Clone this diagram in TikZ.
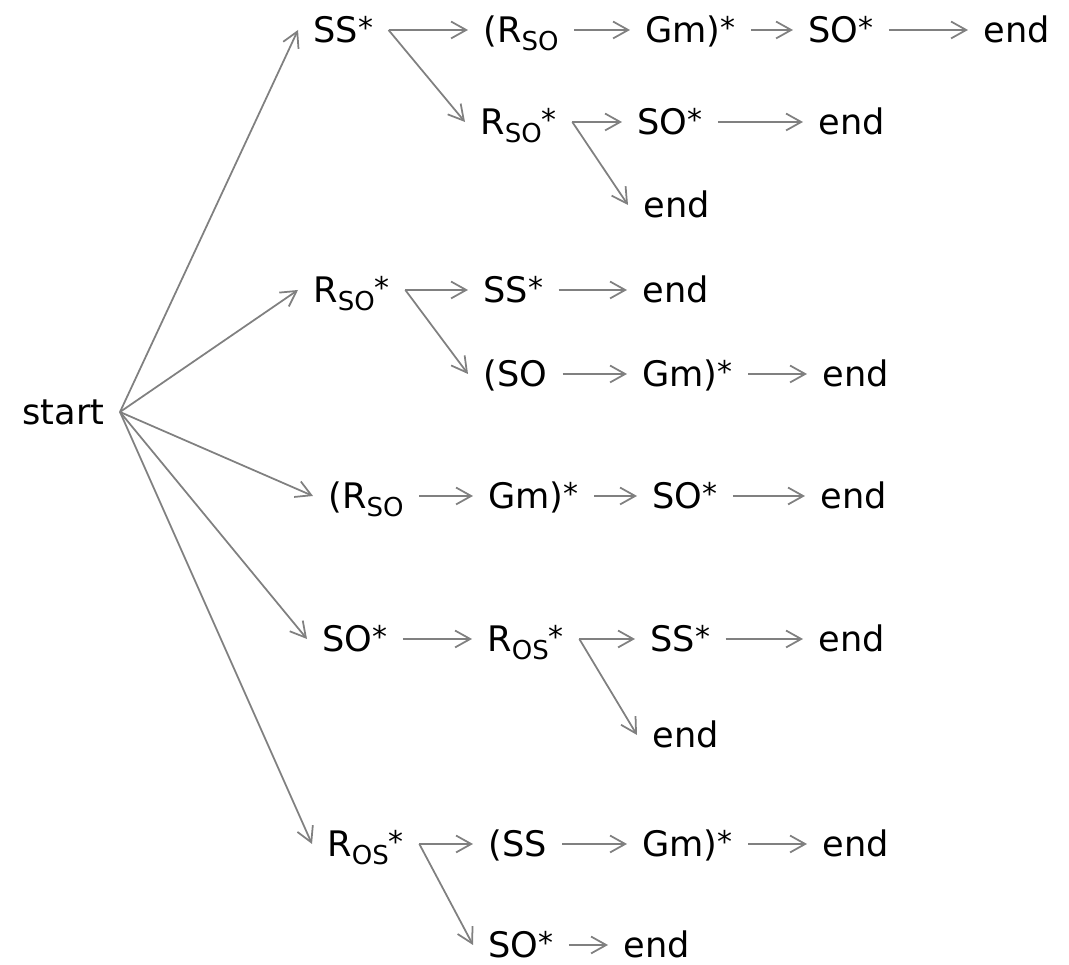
\documentclass[tikz,border=0pt]{standalone}
\usepackage{fontspec}
\setmainfont{DejaVu Sans}
\usepackage{tikz}
\usetikzlibrary{arrows.meta}
\definecolor{linkgray}{RGB}{128,128,128}
\newcommand{\lowsub}[1]{\raisebox{-2.3pt}{\fontsize{7.4}{7.4}\selectfont #1}}
\newcommand{\starmark}{\raisebox{1.2pt}{\fontsize{8.5}{8.5}\selectfont *}}

\begin{document}
\begin{tikzpicture}[x=0.01cm, y=-0.01cm, font=\fontsize{10}{12}\selectfont,
    state/.style={inner sep=0pt, outer xsep=4.4pt, outer ysep=0pt,
                  anchor=west, text height=7.2pt, text depth=0pt},
    link/.style={draw=linkgray, line width=0.5pt,
                 -{Straight Barb[length=4.3pt,width=4.8pt]}}]
  \useasboundingbox (0,0) rectangle (1069,965);

  \node[state, anchor=east] (start) at (120,412){start};

  \node[state] (ssA)  at (298,30){SS\starmark};
  \node[state] (rsoA) at (468,30){(R\lowsub{SO}};
  \node[state] (gmA)  at (630,30){Gm)\starmark};
  \node[state] (soA)  at (793,30){SO\starmark};
  \node[state] (endA) at (968,30){end};

  \node[state] (rsoB) at (465,122){R\lowsub{SO}\starmark};
  \node[state] (soB)  at (622,122){SO\starmark};
  \node[state] (endB) at (803,122){end};
  \node[state] (endC) at (628,205){end};

  \node[state] (rsoD) at (298,290){R\lowsub{SO}\starmark};
  \node[state] (ssD)  at (468,290){SS\starmark};
  \node[state] (endD) at (627,290){end};
  \node[state] (soE)  at (468,374){(SO};
  \node[state] (gmE)  at (627,374){Gm)\starmark};
  \node[state] (endE) at (807,374){end};

  \node[state] (rsoF) at (313,496){(R\lowsub{SO}};
  \node[state] (gmF)  at (473,496){Gm)\starmark};
  \node[state] (soF)  at (637,496){SO\starmark};
  \node[state] (endF) at (805,496){end};

  \node[state] (soG)  at (307,639){SO\starmark};
  \node[state] (rosG) at (472,639){R\lowsub{OS}\starmark};
  \node[state] (ssG)  at (635,639){SS\starmark};
  \node[state] (endG) at (803,639){end};
  \node[state] (endH) at (637,735){end};

  \node[state] (rosI) at (312,844){R\lowsub{OS}\starmark};
  \node[state] (ssI)  at (473,844){(SS};
  \node[state] (gmI)  at (627,844){Gm)\starmark};
  \node[state] (endI) at (807,844){end};
  \node[state] (soJ)  at (473,945){SO\starmark};
  \node[state] (endJ) at (608,945){end};

  \foreach \a/\b in {start/ssA, start/rsoD, start/rsoF, start/soG, start/rosI,
                     ssA/rsoA, rsoA/gmA, gmA/soA, soA/endA,
                     ssA/rsoB, rsoB/soB, soB/endB, rsoB/endC,
                     rsoD/ssD, ssD/endD, rsoD/soE, soE/gmE, gmE/endE,
                     rsoF/gmF, gmF/soF, soF/endF,
                     soG/rosG, rosG/ssG, ssG/endG, rosG/endH,
                     rosI/ssI, ssI/gmI, gmI/endI, rosI/soJ, soJ/endJ}{
    \draw[link] (\a.east) -- (\b.west);
  }
\end{tikzpicture}
\end{document}
